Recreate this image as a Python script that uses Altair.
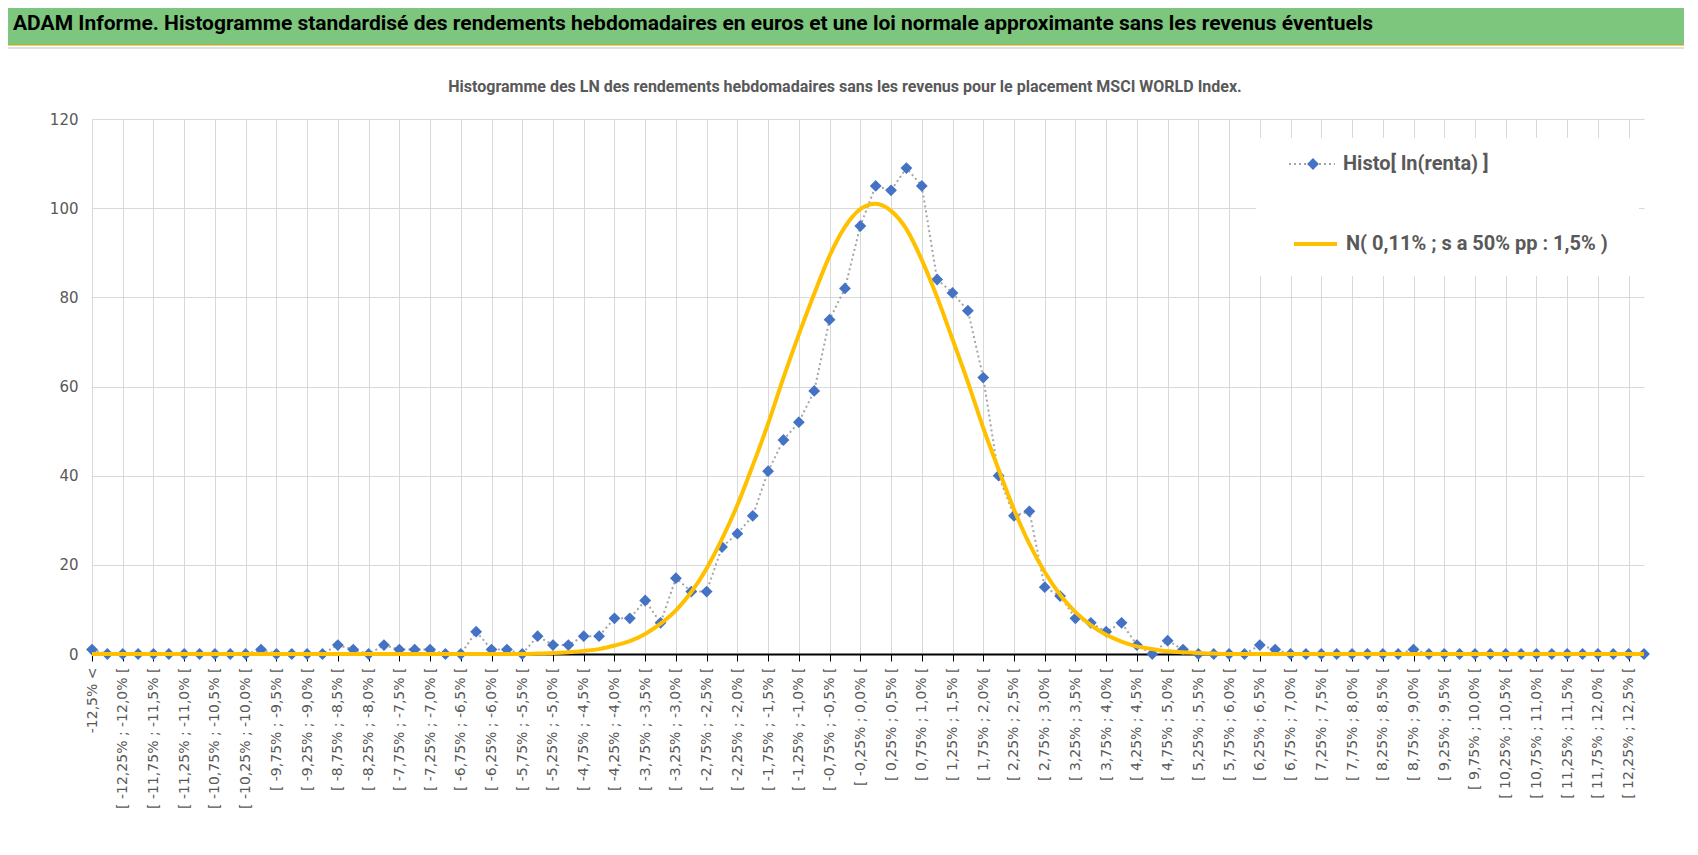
import pandas as pd
import altair as alt

# bins of 0,25 % for the weekly log-returns
bin_lows = [x / 100 for x in range(-1250, 1250, 25)]

def fmt(v):
    s = f"{v:.2f}".rstrip("0")
    if s.endswith("."):
        s += "0"
    return s.replace(".", ",") + "%"

categories = ["-12,5% <"] + [f"[ {fmt(lo)} ; {fmt(lo + 0.25)} [" for lo in bin_lows] + ["12,5% >="]

histo = [1, 0, 0, 0, 0, 0, 0, 0, 0, 0, 0, 1, 0, 0, 0, 0, 2, 1, 0, 2,
         1, 1, 1, 0, 0, 5, 1, 1, 0, 4, 2, 2, 4, 4, 8, 8, 12, 7, 17, 14,
         14, 24, 27, 31, 41, 48, 52, 59, 75, 82, 96, 105, 104, 109, 105, 84, 81, 77, 62, 40,
         31, 32, 15, 13, 8, 7, 5, 7, 2, 0, 3, 1, 0, 0, 0, 0, 2, 1, 0, 0,
         0, 0, 0, 0, 0, 0, 1, 0, 0, 0, 0, 0, 0, 0, 0, 0, 0, 0, 0, 0,
         0, 0]

normal = [0] * 29 + [0.1, 0.2, 0.4, 0.7, 1.1, 1.9, 2.9, 4.5, 6.8, 9.8, 13.9,
                     19.2, 25.8, 33.4, 42.3, 51.7, 62.0, 71.7, 80.8, 89.3, 95.8,
                     99.8, 101, 99.4, 95.3, 88.4, 80.0, 70.6, 61.0, 50.7, 41.4,
                     32.4, 24.7, 18.4, 13.3, 9.4, 6.5, 4.3, 2.8, 1.7, 1.1,
                     0.6, 0.4, 0.2, 0.1] + [0] * 28

df = pd.DataFrame({"cat": categories, "histo": histo, "normal": normal})
shown = categories[0:101:2]

W, H = 1552, 535
FONT = "Roboto"
GREY = "#595959"

x = alt.X("cat:N", sort=categories, title=None,
          scale=alt.Scale(type="point", padding=0),
          axis=alt.Axis(values=shown, labelAngle=270, labelFontSize=14, labelColor=GREY,
                        labelFont="DejaVu Sans", grid=True, gridColor="#d9d9d9",
                        domainColor="black", domainWidth=2, tickColor="black",
                        tickSize=7, labelPadding=6, labelOverlap=False))
y = alt.Y("value:Q", title=None, scale=alt.Scale(domain=[0, 120]),
          axis=alt.Axis(values=[0, 20, 40, 60, 80, 100, 120], labelFontSize=15,
                        labelColor=GREY, labelFont="DejaVu Sans", gridColor="#d9d9d9",
                        domain=False, ticks=False, labelPadding=14))

base = alt.Chart(df)
histo_line = base.transform_calculate(value="datum.histo").mark_line(
    color="#a5a5a5", strokeDash=[2, 3], strokeWidth=2).encode(x=x, y=y)
histo_pts = base.transform_calculate(value="datum.histo").mark_point(
    shape="diamond", filled=True, color="#4472c4", size=140, opacity=1).encode(x=x, y=y)
normal_line = base.transform_calculate(value="datum.normal").mark_line(
    color="#ffc000", strokeWidth=4, interpolate="monotone").encode(x=x, y=y)

# decoration: frame, title bar, subtitle, legend (pixel positions relative to plot origin)
one = df.head(1)
frame = alt.Chart(one).mark_rect(fill=None, stroke="#bfbfbf", strokeWidth=1).encode(
    x=alt.value(-90), x2=alt.value(1604), y=alt.value(-71), y2=alt.value(734))
bar = alt.Chart(one).mark_rect(fill="#7dc67d", stroke="#d0a000", strokeWidth=1).encode(
    x=alt.value(-90), x2=alt.value(1604), y=alt.value(-117), y2=alt.value(-74))
bar_text = alt.Chart(one).mark_text(
    text="ADAM Informe. Histogramme standardisé des rendements hebdomadaires en euros et une loi normale approximante sans les revenus éventuels",
    align="left", baseline="middle", font=FONT, fontSize=21, fontWeight="bold", color="black"
).encode(x=alt.value(-79), y=alt.value(-95))
subtitle = alt.Chart(one).mark_text(
    text="Histogramme  des LN des rendements hebdomadaires sans les revenus pour le placement MSCI WORLD Index.",
    align="center", baseline="middle", font=FONT, fontSize=16, fontWeight="bold", color=GREY
).encode(x=alt.value(753), y=alt.value(-32))

leg_bg = alt.Chart(one).mark_rect(fill="white").encode(
    x=alt.value(1164), x2=alt.value(1547), y=alt.value(19), y2=alt.value(157))
leg1_line = alt.Chart(one).mark_rule(color="#a5a5a5", strokeDash=[2, 3], strokeWidth=2).encode(
    x=alt.value(1197), x2=alt.value(1243), y=alt.value(45))
leg1_pt = alt.Chart(one).mark_point(shape="diamond", filled=True, color="#4472c4", size=140, opacity=1).encode(
    x=alt.value(1221), y=alt.value(45))
leg1_txt = alt.Chart(one).mark_text(
    text="Histo[ ln(renta) ]", align="left", baseline="middle", font=FONT, fontSize=20,
    fontWeight="bold", color=GREY).encode(x=alt.value(1251), y=alt.value(45))
leg2_line = alt.Chart(one).mark_rule(color="#ffc000", strokeWidth=4).encode(
    x=alt.value(1202), x2=alt.value(1245), y=alt.value(125))
leg2_txt = alt.Chart(one).mark_text(
    text="N( 0,11% ; s a 50% pp : 1,5% )", align="left", baseline="middle", font=FONT, fontSize=20,
    fontWeight="bold", color=GREY).encode(x=alt.value(1254), y=alt.value(125))

chart = alt.layer(
    frame, bar, bar_text, subtitle, histo_line, histo_pts, normal_line,
    leg_bg, leg1_line, leg1_pt, leg1_txt, leg2_line, leg2_txt
).properties(
    width=W, height=H, autosize=alt.AutoSizeParams(type="none"),
    padding={"left": 84, "top": 111, "right": 40, "bottom": 190}
).configure_view(stroke=None)

chart.save("out.html", embed_options={"renderer": "svg", "actions": False})
